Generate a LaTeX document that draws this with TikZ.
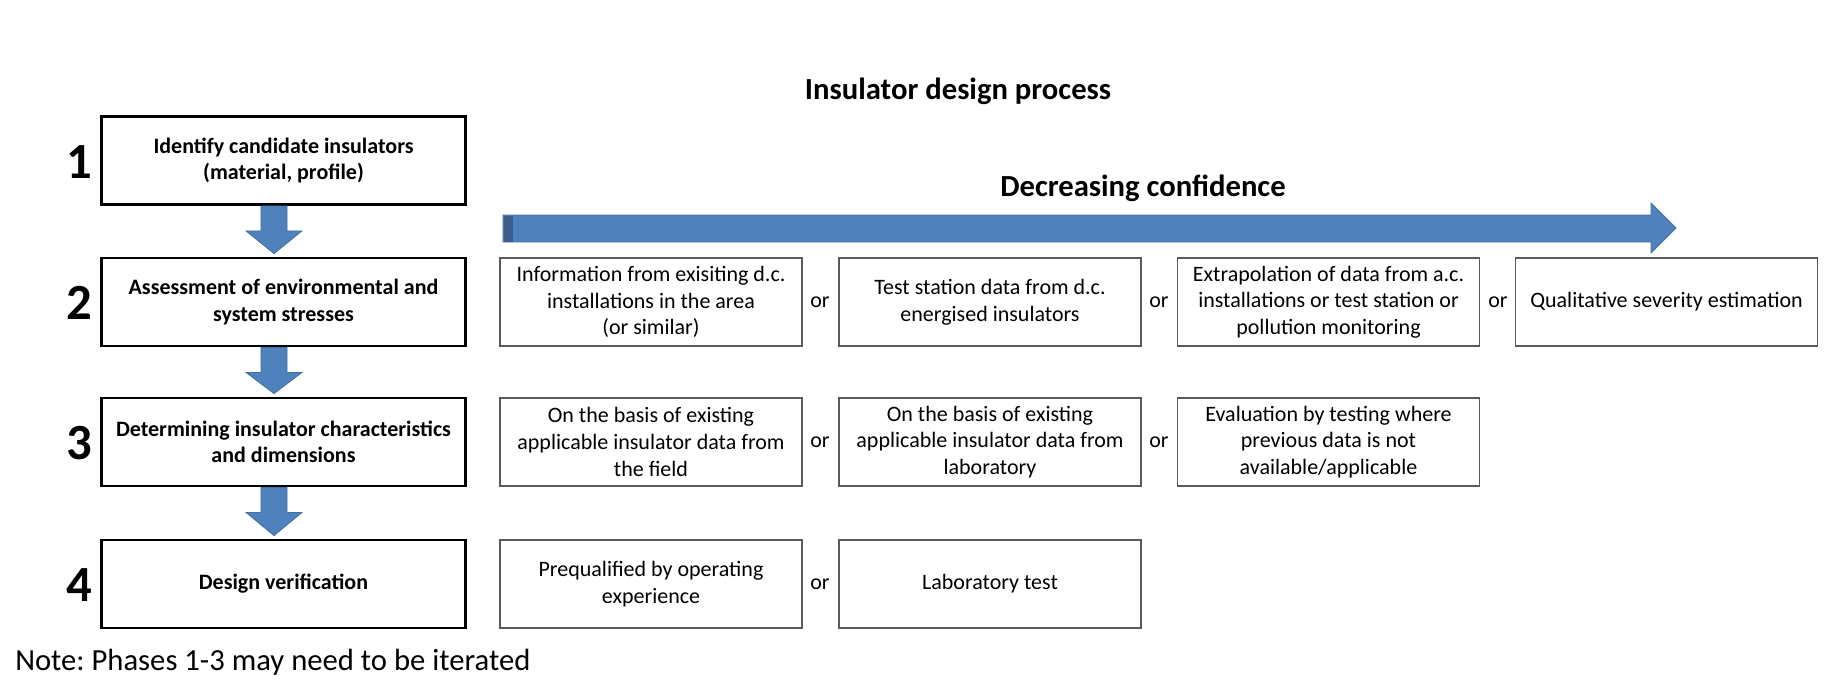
\documentclass[tikz,border=0pt]{standalone}
\usepackage{fontspec}
\setmainfont{Carlito}
\usetikzlibrary{calc}
\definecolor{arrowblue}{HTML}{4F81BD}
\definecolor{arrowedge}{HTML}{41719C}
\definecolor{arrowdark}{HTML}{3B5F8A}
\definecolor{optgray}{HTML}{5A5A5A}
\begin{document}
\frenchspacing
\begin{tikzpicture}[x=0.75pt,y=-0.75pt,
  phase/.style={draw=black, line width=2.1pt, minimum width=273pt, minimum height=66pt,
    align=center, inner sep=2pt, font=\bfseries\fontsize{16.5}{20}\selectfont},
  opt/.style={draw=optgray, line width=1.3pt, minimum width=226.5pt, minimum height=66.5pt,
    align=center, inner sep=2pt, font=\fontsize{16.5}{20}\selectfont},
  ortext/.style={inner sep=0pt, font=\fontsize{16.5}{20}\selectfont},
  num/.style={inner sep=0pt, font=\bfseries\fontsize{38}{44}\selectfont},
  headline/.style={inner sep=0pt, font=\bfseries\fontsize{23}{28}\selectfont},
  blockarrow/.style={fill=arrowblue, draw=arrowedge, line width=0.6pt}]
\useasboundingbox (0,0) rectangle (1844,696);

% titles
\node[headline] (title) at (958,91) {Insulator design process};
\node[headline] (conf) at (1143,188) {Decreasing confidence};

% confidence arrow
\path[blockarrow] (503,215) -- (1651,215) -- (1651,203) -- (1676,228) -- (1651,253)
  -- (1651,242) -- (503,242) -- cycle;
\fill[arrowdark] (503.5,215.5) rectangle (513,241.5);

% phase boxes
\node[phase] (p1) at (283.5,160.5) {Identify candidate insulators\\(material, profile)};
\node[phase] (p2) at (283.5,302) {Assessment of environmental and\\system stresses};
\node[phase] (p3) at (283.5,442) {Determining insulator characteristics\\and dimensions};
\node[phase] (p4) at (283.5,584) {Design verification};

% numbers
\node[num] (n1) at (79,162) {1};
\node[num] (n2) at (79,303) {2};
\node[num] (n3) at (79,443) {3};
\node[num] (n4) at (79,585) {4};

% down arrows
\foreach \a/\b in {p1/p2,p2/p3,p3/p4}{
  \coordinate (s) at ($(\a.south)+(-9.5,0)$);
  \coordinate (t) at ($(\b.north)+(-9.5,-3)$);
  \path[blockarrow] ($(s)+(-13,0)$) -- ($(s)+(13,0)$) -- ($(s)+(13,25)$) -- ($(s)+(28,25)$)
    -- (t) -- ($(s)+(-28,25)$) -- ($(s)+(-13,25)$) -- cycle;
}

% row 2 options
\node[opt] (a2) at (651,302) {Information from exisiting d.c.\\installations in the area\\(or similar)};
\node[opt] (b2) at (990,302) {Test station data from d.c.\\energised insulators};
\node[opt] (c2) at (1328.5,302) {Extrapolation of data from a.c.\\installations or test station or\\pollution monitoring};
\node[opt] (d2) at (1666.5,302) {Qualitative severity estimation};
\node[ortext] (o2a) at (820,302) {or};
\node[ortext] (o2b) at (1159,302) {or};
\node[ortext] (o2c) at (1498,302) {or};

% row 3 options
\node[opt] (a3) at (651,442) {On the basis of existing\\applicable insulator data from\\the field};
\node[opt] (b3) at (990,442) {On the basis of existing\\applicable insulator data from\\laboratory};
\node[opt] (c3) at (1328.5,442) {Evaluation by testing where\\previous data is not\\available/applicable};
\node[ortext] (o3a) at (820,442) {or};
\node[ortext] (o3b) at (1159,442) {or};

% row 4 options
\node[opt] (a4) at (651,584) {Prequalified by operating\\experience};
\node[opt] (b4) at (990,584) {Laboratory test};
\node[ortext] (o4a) at (820,584) {or};

% note
\node[anchor=west, inner sep=0pt, font=\fontsize{23}{28}\selectfont] (note) at (15,662)
  {Note: Phases 1-3 may need to be iterated};
\end{tikzpicture}
\end{document}
